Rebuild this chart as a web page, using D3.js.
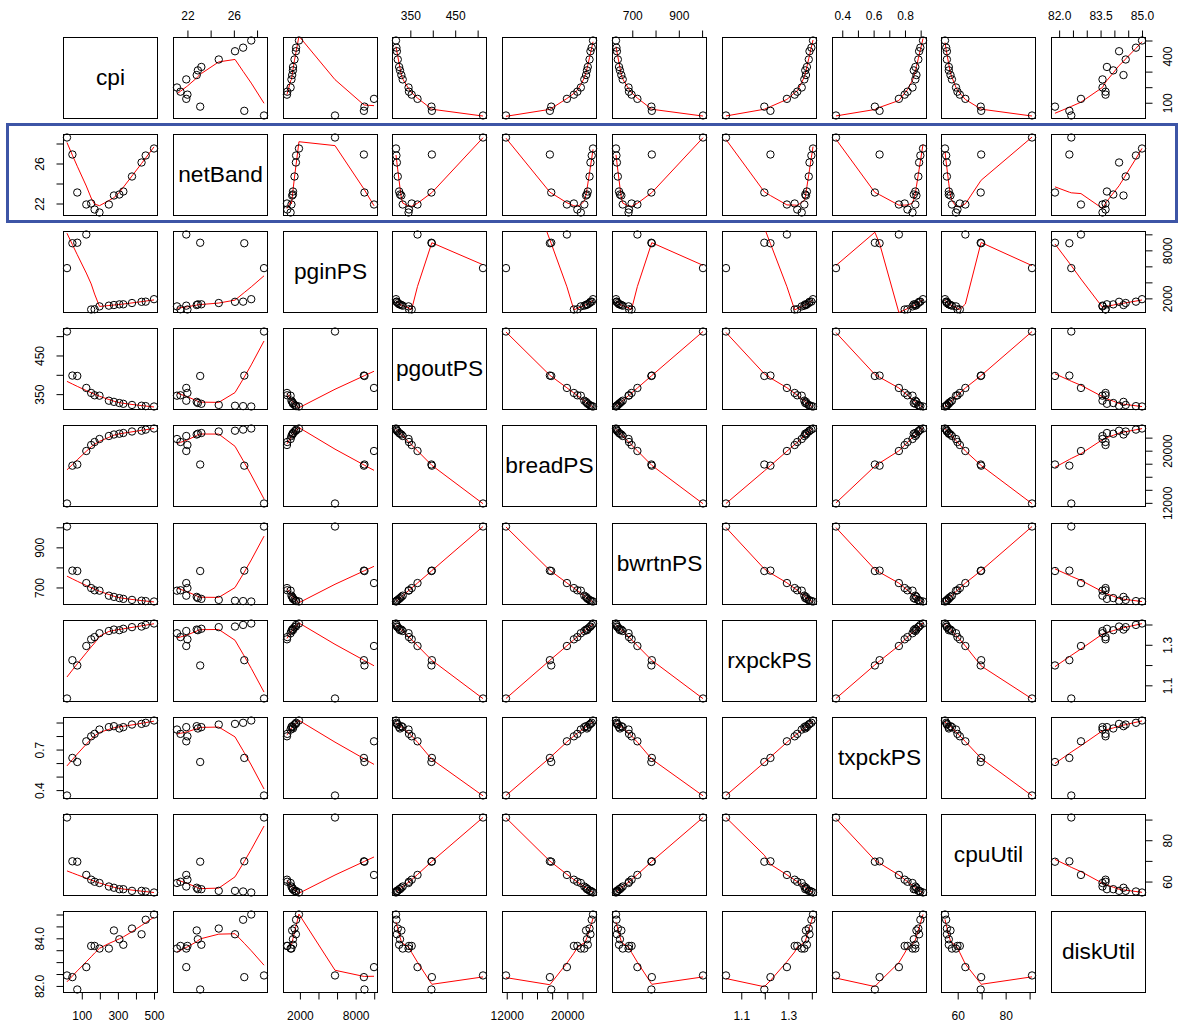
<!DOCTYPE html>
<html>
<head>
<meta charset="utf-8">
<script src="https://cdn.jsdelivr.net/npm/d3@7"></script>
<style>
  body { margin: 0; background: #fff; }
  svg { display: block; font-family: "Liberation Sans", Arial, sans-serif; }
</style>
</head>
<body>
<svg id="chart" width="1180" height="1027"></svg>
<script>
// variable names (diagonal labels)
const varNames = ['cpi', 'netBand', 'pginPS', 'pgoutPS', 'breadPS', 'bwrtnPS', 'rxpckPS', 'txpckPS', 'cpuUtil', 'diskUtil'];

// one value per observation (15 runs)
const cpi      = [18, 48, 75, 125, 152, 171, 198, 250, 278, 308, 330, 378, 431, 454, 500];
const netBand  = [28.6, 26.9, 23.1, 21.9, 22.0, 21.4, 21.1, 21.9, 22.8, 22.9, 23.2, 24.7, 26.1, 26.8, 27.5];
const pginPS   = [5780, 8890, 8950, 9980, 610, 640, 1000, 1090, 1170, 1250, 1260, 1420, 1570, 1590, 1900];
const pgoutPS  = [512, 398, 397, 366, 353, 347, 346, 333, 330, 327, 325, 322, 320, 319, 318];
const breadPS  = [11900, 17700, 17880, 19950, 20870, 21330, 21790, 22250, 22480, 22600, 22710, 22940, 23060, 23230, 23400];
const bwrtnPS  = [1004, 784, 782, 722, 697, 686, 684, 659, 653, 647, 643, 638, 634, 632, 630];
const rxpckPS  = [1.035, 1.224, 1.198, 1.294, 1.327, 1.338, 1.357, 1.368, 1.375, 1.372, 1.379, 1.387, 1.390, 1.398, 1.405];
const txpckPS  = [0.360, 0.638, 0.608, 0.761, 0.798, 0.816, 0.848, 0.866, 0.873, 0.856, 0.866, 0.885, 0.890, 0.898, 0.915];
const cpuUtil  = [91.0, 69.8, 69.6, 63.2, 60.9, 59.9, 59.3, 57.6, 57.0, 56.3, 56.3, 55.5, 55.5, 55.2, 54.7];
const diskUtil = [82.44, 82.37, 81.85, 82.79, 83.68, 83.68, 83.57, 83.57, 84.33, 83.96, 83.73, 84.41, 84.17, 84.78, 85.0];

// tick positions and the labels that are actually printed
const tickValues = [
  [100, 200, 300, 400, 500],
  [22, 24, 26, 28],
  [2000, 4000, 6000, 8000, 10000],
  [350, 400, 450, 500],
  [12000, 14000, 16000, 18000, 20000, 22000],
  [700, 800, 900, 1000],
  [1.1, 1.2, 1.3, 1.4],
  [0.4, 0.5, 0.6, 0.7, 0.8, 0.9],
  [60, 70, 80, 90],
  [82.0, 82.5, 83.0, 83.5, 84.0, 84.5, 85.0]
];
const labelsOuterX = [   // top (even cols) / bottom (odd cols)
  ['100', '300', '500'], ['22', '26'], ['2000', '8000'], ['350', '450'], ['12000', '20000'],
  ['700', '900'], ['1.1', '1.3'], ['0.4', '0.6', '0.8'], ['60', '80'], ['82.0', '83.5', '85.0']
];
const labelsOuterY = [   // right (odd rows) / left (even rows)
  ['100', '400'], ['22', '26'], ['2000', '8000'], ['350', '450'], ['12000', '20000'],
  ['700', '900'], ['1.1', '1.3'], ['0.4', '0.7'], ['60', '80'], ['82.0', '84.0']
];

const columns = [cpi, netBand, pginPS, pgoutPS, breadPS, bwrtnPS, rxpckPS, txpckPS, cpuUtil, diskUtil];
const nv = columns.length;

const svg = d3.select('#chart');
const panelW = 94, panelH = 81;
const colX = d3.range(nv).map(j => Math.round(63 + j * 109.8) + 0.5);
const rowY = d3.range(nv).map(i => Math.round(37 + i * 97.1) + 0.5);

function padded(v) {
  const [a, b] = d3.extent(v);
  const r = b - a;
  return [a - 0.04 * r, b + 0.04 * r];
}

const xScales = columns.map((v, j) => d3.scaleLinear().domain(padded(v)).range([colX[j], colX[j] + panelW]));
const yScales = columns.map((v, i) => d3.scaleLinear().domain(padded(v)).range([rowY[i] + panelH, rowY[i]]));

// R's clowess (stats::lowess) port
function lowest(x, y, n, xs, nleft, nright, w, userw, rw) {
  const range = x[n - 1] - x[0];
  const h = Math.max(xs - x[nleft], x[nright] - xs);
  const h9 = 0.999 * h, h1 = 0.001 * h;
  let a = 0, j = nleft;
  while (j < n) {
    w[j] = 0;
    const r = Math.abs(x[j] - xs);
    if (r <= h9) {
      if (r <= h1) w[j] = 1;
      else w[j] = Math.pow(1 - Math.pow(r / h, 3), 3);
      if (userw) w[j] *= rw[j];
      a += w[j];
    } else if (x[j] > xs) break;
    j++;
  }
  const nrt = j - 1;
  if (a <= 0) return null;
  for (j = nleft; j <= nrt; j++) w[j] /= a;
  if (h > 0) {
    a = 0;
    for (j = nleft; j <= nrt; j++) a += w[j] * x[j];
    let b = xs - a, c = 0;
    for (j = nleft; j <= nrt; j++) c += w[j] * (x[j] - a) * (x[j] - a);
    if (Math.sqrt(c) > 0.001 * range) {
      b /= c;
      for (j = nleft; j <= nrt; j++) w[j] *= (b * (x[j] - a) + 1);
    }
  }
  let ys = 0;
  for (j = nleft; j <= nrt; j++) ys += w[j] * y[j];
  return ys;
}

function lowess(xIn, yIn, f = 2 / 3, nsteps = 3) {
  const order = d3.range(xIn.length).sort((a, b) => (xIn[a] - xIn[b]) || (a - b));
  const x = order.map(i => xIn[i]), y = order.map(i => yIn[i]);
  const n = x.length;
  const delta = 0.01 * (x[n - 1] - x[0]);
  const ys = new Array(n).fill(0), rw = new Array(n).fill(0), res = new Array(n).fill(0);
  const ns = Math.max(2, Math.min(n, Math.floor(f * n + 1e-7)));
  let iter = 1;
  while (iter <= nsteps + 1) {
    let nleft = 0, nright = ns - 1, last = -1, i = 0;
    for (;;) {
      if (nright < n - 1) {
        const d1 = x[i] - x[nleft], d2 = x[nright + 1] - x[i];
        if (d1 > d2) { nleft++; nright++; continue; }
      }
      const fit = lowest(x, y, n, x[i], nleft, nright, res, iter > 1, rw);
      ys[i] = fit === null ? y[i] : fit;
      if (last < i - 1) {
        const denom = x[i] - x[last];
        for (let j = last + 1; j < i; j++) {
          const alpha = (x[j] - x[last]) / denom;
          ys[j] = alpha * ys[i] + (1 - alpha) * ys[last];
        }
      }
      last = i;
      const cut = x[last] + delta;
      for (i = last + 1; i < n; i++) {
        if (x[i] > cut) break;
        if (x[i] === x[last]) { ys[i] = ys[last]; last = i; }
      }
      i = Math.max(last + 1, i - 1);
      if (last >= n - 1) break;
    }
    for (let k = 0; k < n; k++) res[k] = y[k] - ys[k];
    const sc = d3.sum(res, r => Math.abs(r)) / n;
    if (iter > nsteps) break;
    const sorted = res.map(Math.abs).sort((a, b) => a - b);
    const m1 = Math.floor(n / 2);
    const cmad = n % 2 === 0 ? 3 * (sorted[m1] + sorted[n - m1 - 1]) : 6 * sorted[m1];
    if (cmad < 1e-7 * sc) break;
    const c9 = 0.999 * cmad, c1 = 0.001 * cmad;
    for (let k = 0; k < n; k++) {
      const r = Math.abs(res[k]);
      rw[k] = r <= c1 ? 1 : (r <= c9 ? Math.pow(1 - Math.pow(r / cmad, 2), 2) : 0);
    }
    iter++;
  }
  return x.map((xv, k) => [xv, ys[k]]);
}

// highlight box around the netBand row
svg.append('rect')
  .attr('x', 7.5).attr('y', 124.5)
  .attr('width', 1169).attr('height', 97)
  .attr('fill', 'none')
  .attr('stroke', '#3d55a6')
  .attr('stroke-width', 3);

const defs = svg.append('defs');
const smooth = d3.line();

for (let i = 0; i < nv; i++) {
  for (let j = 0; j < nv; j++) {
    const g = svg.append('g').attr('class', `panel-${i}-${j}`);
    g.append('rect')
      .attr('x', colX[j]).attr('y', rowY[i])
      .attr('width', panelW).attr('height', panelH)
      .attr('fill', '#fff')
      .attr('stroke', '#000')
      .attr('stroke-width', 1);

    if (i === j) {
      g.append('text')
        .attr('x', colX[j] + panelW / 2)
        .attr('y', rowY[i] + panelH / 2)
        .attr('dy', '0.33em')
        .attr('text-anchor', 'middle')
        .attr('font-size', 22.7)
        .attr('fill', '#000')
        .text(varNames[i]);
      continue;
    }

    // smoother is clipped to the plot region, like R does
    defs.append('clipPath').attr('id', `clip-${i}-${j}`)
      .append('rect')
      .attr('x', colX[j]).attr('y', rowY[i])
      .attr('width', panelW).attr('height', panelH);

    const xs = xScales[j], ys = yScales[i];
    const xv = columns[j], yv = columns[i];

    g.append('path')
      .attr('clip-path', `url(#clip-${i}-${j})`)
      .attr('d', smooth(lowess(xv, yv).map(([a, b]) => [xs(a), ys(b)])))
      .attr('fill', 'none')
      .attr('stroke', '#ff0000')
      .attr('stroke-width', 1);

    g.selectAll('circle')
      .data(d3.range(xv.length))
      .join('circle')
      .attr('cx', k => xs(xv[k]))
      .attr('cy', k => ys(yv[k]))
      .attr('r', 3.7)
      .attr('fill', 'none')
      .attr('stroke', '#000')
      .attr('stroke-width', 1);
  }
}

// outer axes like pairs(): top for even cols, bottom for odd cols, left for even rows, right for odd rows
function fmtFor(labels) {
  return d => {
    const s = String(d % 1 === 0 && labels.some(l => l.includes('.')) ? d.toFixed(1) : d);
    return labels.includes(s) ? s : '';
  };
}

for (let j = 0; j < nv; j++) {
  const top = (j + 1) % 2 === 0;
  const axis = (top ? d3.axisTop(xScales[j]) : d3.axisBottom(xScales[j]))
    .tickValues(tickValues[j])
    .tickSize(7)
    .tickPadding(top ? 10.5 : 11.5)
    .tickFormat(fmtFor(labelsOuterX[j]));
  const ax = svg.append('g')
    .attr('transform', `translate(0,${top ? rowY[0] : rowY[nv - 1] + panelH})`)
    .call(axis);
  ax.select('.domain').remove();
  ax.selectAll('.tick text').attr('font-size', 12).attr('font-family', '"Liberation Sans", Arial, sans-serif').attr('fill', '#000');
}

for (let i = 0; i < nv; i++) {
  const leftSide = (i + 1) % 2 === 0;
  const axis = (leftSide ? d3.axisLeft(yScales[i]) : d3.axisRight(yScales[i]))
    .tickValues(tickValues[i])
    .tickSize(7)
    .tickFormat(fmtFor(labelsOuterY[i]));
  const ax = svg.append('g')
    .attr('transform', `translate(${leftSide ? colX[0] : colX[nv - 1] + panelW},0)`)
    .call(axis);
  ax.select('.domain').remove();
  ax.selectAll('.tick text')
    .attr('font-size', 12)
    .attr('font-family', '"Liberation Sans", Arial, sans-serif')
    .attr('fill', '#000')
    .attr('text-anchor', 'middle')
    .attr('x', 0)
    .attr('dy', 0)
    .attr('y', leftSide ? -19.2 : 26.6)
    .attr('transform', 'rotate(-90)');
}
</script>
</body>
</html>
